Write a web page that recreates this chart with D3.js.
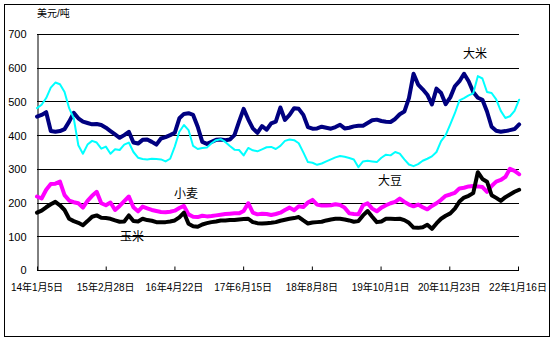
<!DOCTYPE html>
<html>
<head>
<meta charset="utf-8">
<script src="https://cdn.jsdelivr.net/npm/d3@7/dist/d3.min.js"></script>
<style>
  html, body { margin: 0; padding: 0; background: #fff; }
  svg { display: block; }
  text { font-family: "Liberation Sans", "Noto Sans CJK SC", sans-serif; fill: #000; }
</style>
</head>
<body>
<svg id="chart" width="554" height="343"></svg>
<script>
// Sampling: one observation every 4 weeks starting 2014-01-05
const startDate = "2014-01-05";
const stepDays = 28;

// Tick dates and their labels on the time axis
const tickDates = ["2014-01-05", "2015-02-28", "2016-04-22", "2017-06-15",
                   "2018-08-08", "2019-10-01", "2020-11-23", "2022-01-16"];
const tickLabels = ["14年1月5日", "15年2月28日", "16年4月22日", "17年6月15日",
                    "18年8月8日", "19年10月1日", "20年11月23日", "22年1月16日"];

const yTicks = [0, 100, 200, 300, 400, 500, 600, 700];

// Prices, USD per tonne
const rice = [455,460,468,412,410,412,418,440,466,450,440,436,432,433,430,422,412,402,392,400,
              410,378,375,386,387,380,372,390,394,400,407,450,463,465,460,425,380,374,380,386,
              387,385,387,400,440,478,447,420,407,427,416,435,440,482,445,460,480,478,460,424,
              419,420,425,422,419,424,431,420,422,426,428,428,436,444,446,442,440,439,448,462,
              470,510,582,550,536,520,491,538,525,492,512,545,560,582,560,528,511,505,470,425,
              413,410,412,415,418,432];
const soybean = [480,490,510,541,556,551,528,480,450,370,345,372,383,378,360,366,345,358,356,372,
              378,350,333,329,328,330,329,328,322,330,366,410,430,415,368,359,362,363,376,385,
              388,380,368,357,356,340,362,355,352,358,364,365,359,368,383,387,385,376,349,320,
              318,312,316,322,328,334,338,336,332,328,305,322,324,322,320,333,342,340,350,345,
              328,313,308,314,324,330,337,350,382,400,432,465,503,510,518,524,575,568,528,525,
              506,472,451,456,472,505];
const wheat = [218,212,238,255,256,262,222,206,201,198,185,205,220,232,198,192,200,178,190,204,
              218,186,174,188,183,178,175,172,171,173,176,184,190,165,158,157,161,159,160,162,
              164,166,167,168,168,175,198,170,165,167,166,163,166,170,178,185,177,189,187,200,
              208,194,191,191,192,195,193,185,168,166,165,192,198,182,174,185,192,198,202,212,
              202,194,189,194,186,180,190,198,208,220,224,229,242,244,248,249,248,246,232,249,
              262,267,276,300,294,284];
const corn = [170,176,186,195,202,192,178,152,145,140,133,145,158,162,155,154,152,147,143,144,
              162,145,144,152,148,146,142,142,142,144,147,156,170,137,130,128,135,139,142,144,
              147,147,148,148,150,151,152,142,139,138,139,140,142,146,149,152,154,157,147,138,
              141,142,143,147,150,152,152,150,147,143,145,162,175,158,142,144,152,152,151,152,
              148,140,126,125,127,134,122,138,152,161,168,182,203,215,220,228,290,270,262,222,
              214,205,216,224,232,238];

const seriesNames = ["大米", "小麦", "玉米", "大豆"];
const seriesColors = ["#000080", "#ff00ff", "#000000", "#00ffff"];
const seriesValues = [rice, wheat, corn, soybean];

const parse = d3.utcParse("%Y-%m-%d");
const t0 = parse(startDate);
const dates = rice.map((_, i) => d3.utcDay.offset(t0, i * stepDays));

const svg = d3.select("#chart");

// outer frame
svg.append("rect")
  .attr("x", 4.5).attr("y", 4.5).attr("width", 545).attr("height", 332)
  .attr("fill", "none").attr("stroke", "#000").attr("stroke-width", 1);

const x = d3.scaleUtc()
  .domain([parse(tickDates[0]), parse(tickDates[tickDates.length - 1])])
  .range([37, 518]);
const y = d3.scaleLinear().domain([0, 700]).range([270, 34]);

// horizontal gridlines
svg.append("g").selectAll("line")
  .data(yTicks.filter(v => v > 0))
  .join("line")
  .attr("x1", 37).attr("x2", 519)
  .attr("y1", d => Math.round(y(d)) + 0.5).attr("y2", d => Math.round(y(d)) + 0.5)
  .attr("stroke", "#000").attr("stroke-width", 1);

// y axis
const yAxis = svg.append("g")
  .attr("transform", "translate(37.5,0)")
  .call(d3.axisLeft(y).tickValues(yTicks).tickSize(0).tickPadding(11));
yAxis.select(".domain").attr("stroke", "#000");
yAxis.selectAll("text").attr("font-size", 11)
  .attr("font-family", "'Liberation Sans', sans-serif").attr("dy", "0.35em");

// x axis, ticks pointing into the plot
const xAxis = svg.append("g")
  .attr("transform", "translate(0,270.5)")
  .call(d3.axisTop(x).tickValues(tickDates.map(parse)).tickSize(4).tickFormat(() => ""));
xAxis.select(".domain").attr("d", "M37,0H519");
xAxis.selectAll("line").attr("stroke", "#000");

svg.append("g").selectAll("text")
  .data(tickDates)
  .join("text")
  .attr("x", d => x(parse(d)))
  .attr("y", 291)
  .attr("text-anchor", "middle")
  .attr("font-size", 10)
  .text((d, i) => tickLabels[i]);

// unit label
svg.append("text").attr("x", 37).attr("y", 17).attr("font-size", 10).text("美元/吨");

// price lines
const line = d3.line()
  .x((d, i) => x(dates[i]))
  .y(d => y(d))
  .curve(d3.curveLinear);

seriesValues.forEach((vals, k) => {
  const isSoy = k === 3;
  svg.append("path")
    .datum(vals)
    .attr("fill", "none")
    .attr("stroke", seriesColors[k])
    .attr("stroke-width", isSoy ? 2 : 4)
    .attr("stroke-linejoin", "round")
    .attr("stroke-linecap", "round")
    .attr("d", line);
});

// series labels
const labelPos = [
  { name: "大米", x: 475, y: 58 },
  { name: "大豆", x: 390, y: 185 },
  { name: "小麦", x: 186, y: 198 },
  { name: "玉米", x: 132, y: 241 }
];
svg.append("g").selectAll("text")
  .data(labelPos)
  .join("text")
  .attr("x", d => d.x).attr("y", d => d.y)
  .attr("text-anchor", "middle")
  .attr("font-size", 12)
  .text(d => d.name);
</script>
</body>
</html>
